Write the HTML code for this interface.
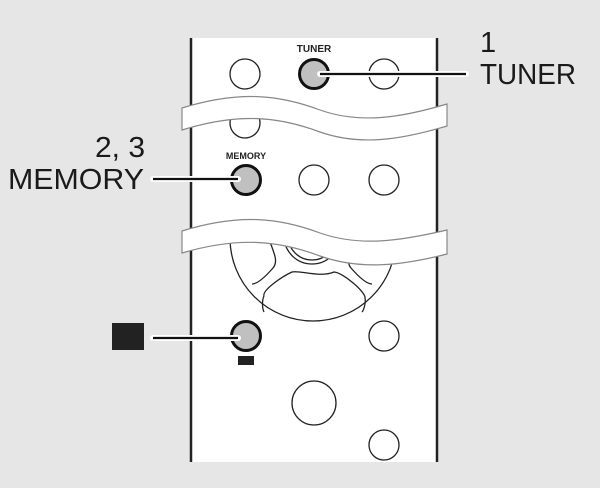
<!DOCTYPE html>
<html><head><style>
html,body{margin:0;padding:0;background:#e6e6e6;}
svg{display:block;}
</style></head><body>
<svg width="600" height="488" viewBox="0 0 600 488" xmlns="http://www.w3.org/2000/svg">
<defs><clipPath id="dc"><rect x="190" y="240" width="250" height="100"/></clipPath></defs>
<rect width="600" height="488" fill="#e6e6e6"/>
<rect x="191" y="38" width="246" height="424" fill="#fff"/>
<line x1="191" y1="38" x2="191" y2="462" stroke="#222" stroke-width="2.5"/>
<line x1="437" y1="38" x2="437" y2="462" stroke="#222" stroke-width="2.5"/>
<g fill="none" stroke="#222" stroke-width="1.3">
<circle cx="245" cy="74" r="15"/>
<circle cx="384" cy="74" r="15"/>
<circle cx="245" cy="123" r="15"/>
<circle cx="314" cy="180" r="15"/>
<circle cx="384" cy="180" r="15"/>
<g clip-path="url(#dc)">
<circle cx="313" cy="238" r="83"/>
<circle cx="312" cy="236" r="24"/>
<circle cx="312" cy="236" r="28"/>
<path d="M264,296 C262,290 283,276 292,272 C300,270 320,278 334,272 C342,272 366,292 365,298 C366,302 364,310 362,312"/>
<path d="M264,296 C262,300 262,308 264,312"/>
<path d="M270,242 C275,255 278,262 273,268 C266,276 258,284 252,284"/>
<path d="M354,242 C349,255 346,262 351,268 C358,276 366,284 372,284"/>
</g>
<circle cx="384" cy="336" r="15"/>
<circle cx="314" cy="403" r="22"/>
<circle cx="384" cy="445" r="15"/>
</g>
<text x="314" y="52" font-family="Liberation Sans, sans-serif" font-weight="bold" font-size="10" text-anchor="middle" fill="#222">TUNER</text>
<text x="246" y="159" font-family="Liberation Sans, sans-serif" font-weight="bold" font-size="9" text-anchor="middle" fill="#222">MEMORY</text>
<path d="M182,108 C240,90 280,95 320,110 C360,124 400,118 447,104 L447,126 C400,140 360,146 320,132 C280,117 240,112 182,130 Z" fill="#fff" stroke="#888" stroke-width="1.2"/>
<path d="M182,231 C240,213 280,218 320,233 C360,247 400,241 447,230 L447,254 C400,266 360,270 320,256 C280,241 240,236 182,253 Z" fill="#fff" stroke="#888" stroke-width="1.2"/>
<g fill="#c0c0c0" stroke="#111" stroke-width="3">
<circle cx="314" cy="74" r="14.5"/>
<circle cx="246" cy="180" r="14.5"/>
<circle cx="246" cy="336" r="14.5"/>
</g>
<rect x="238" y="356" width="16" height="9" fill="#222"/>
<g stroke="#fff" stroke-width="6" stroke-linecap="round">
<line x1="320" y1="74" x2="466" y2="74"/>
<line x1="153" y1="179" x2="238" y2="179"/>
<line x1="153" y1="338" x2="238" y2="338"/>
</g>
<g stroke="#111" stroke-width="2.2">
<line x1="320" y1="74" x2="466" y2="74"/>
<line x1="153" y1="179" x2="238" y2="179"/>
<line x1="153" y1="338" x2="238" y2="338"/>
</g>
<rect x="112" y="323" width="32" height="27" fill="#222"/>
<g font-family="Liberation Sans, sans-serif" font-size="29" fill="#1a1a1a">
<text x="480" y="52">1</text>
<text x="480" y="84" textLength="96" lengthAdjust="spacingAndGlyphs">TUNER</text>
<text x="95" y="157" textLength="50" lengthAdjust="spacingAndGlyphs">2, 3</text>
<text x="8" y="189" textLength="136" lengthAdjust="spacingAndGlyphs">MEMORY</text>
</g>
</svg>
</body></html>
